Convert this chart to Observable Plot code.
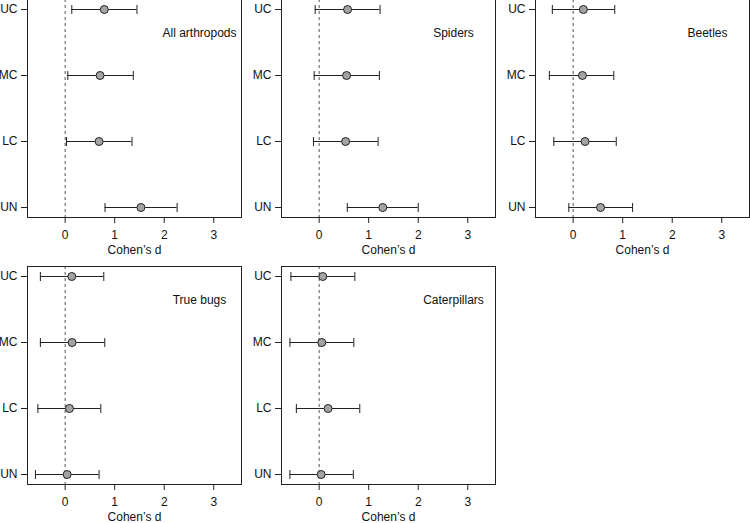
<!DOCTYPE html>
<html><head><meta charset="utf-8">
<script src="https://cdn.jsdelivr.net/npm/d3@7"></script>
<script src="https://cdn.jsdelivr.net/npm/@observablehq/plot@0.6"></script>
<style>
body{margin:0;background:#fff;}
#wrap{position:relative;width:750px;height:523px;overflow:hidden;background:#fff;}
.panel{position:absolute;}
</style></head><body><div id="wrap"></div>
<script>
// Categories (top to bottom)
const groups = ["UC", "MC", "LC", "UN"];
const taxa = ["All arthropods", "Spiders", "Beetles", "True bugs", "Caterpillars"];
const xTicks = [0, 1, 2, 3];
const xLabel = "Cohen’s d";

// Cohen's d estimates per taxon, in group order UC, MC, LC, UN
const cohenD = [
  [0.79, 0.705, 0.685, 1.53],   // All arthropods
  [0.574, 0.554, 0.534, 1.284], // Spiders
  [0.207, 0.187, 0.24, 0.553],  // Beetles
  [0.134, 0.14, 0.087, 0.04],   // True bugs
  [0.074, 0.054, 0.18, 0.04]    // Caterpillars
];
// Lower confidence limits
const ciLow = [
  [0.134, 0.054, 0.027, 0.805],
  [-0.08, -0.10, -0.115, 0.568],
  [-0.42, -0.48, -0.39, -0.087],
  [-0.50, -0.50, -0.55, -0.60],
  [-0.57, -0.59, -0.46, -0.59]
];
// Upper confidence limits
const ciHigh = [
  [1.45, 1.376, 1.35, 2.26],
  [1.23, 1.216, 1.19, 2.0],
  [0.84, 0.82, 0.87, 1.2],
  [0.78, 0.80, 0.72, 0.685],
  [0.72, 0.70, 0.82, 0.69]
];

// Panel placement (layout only)
const layout = [
  {left: 0,   top: -1,  w: 250, h: 261, ml: 27, mr: 9, mt: 0, mb: 43},
  {left: 250, top: -1,  w: 250, h: 261, ml: 31, mr: 5, mt: 0, mb: 43},
  {left: 500, top: -1,  w: 250, h: 261, ml: 35, mr: 1, mt: 0, mb: 43},
  {left: 0,   top: 260, w: 250, h: 263, ml: 27, mr: 9, mt: 6, mb: 39},
  {left: 250, top: 260, w: 250, h: 263, ml: 31, mr: 5, mt: 6, mb: 39}
];

// vertical cap symbol for error bars
const capSymbol = {
  draw(context, size) {
    const r = Math.sqrt(size / Math.PI);
    context.moveTo(0, -r);
    context.lineTo(0, r);
  }
};

const wrap = document.getElementById("wrap");
const ink = "#222";

taxa.forEach((name, k) => {
  const data = groups.map((g, i) => ({g, d: cohenD[k][i], lo: ciLow[k][i], hi: ciHigh[k][i]}));
  const L = layout[k];
  const chart = Plot.plot({
    width: L.w, height: L.h,
    marginLeft: L.ml, marginRight: L.mr, marginTop: L.mt, marginBottom: L.mb,
    style: {fontFamily: "'Liberation Sans', Arial, Helvetica, sans-serif", fontSize: "12px", color: "#111", background: "white", overflow: "visible"},
    x: {domain: [-0.76, 3.56]},
    y: {type: "point", domain: groups, padding: 0.13},
    marks: [
      Plot.ruleX([0], {stroke: "#555", strokeDasharray: "3,3", strokeWidth: 1}),
      Plot.ruleY(data, {y: "g", x1: "lo", x2: "hi", stroke: ink, strokeWidth: 1}),
      Plot.dot(data, {x: "lo", y: "g", r: 4.5, symbol: capSymbol, fill: "none", stroke: ink, strokeWidth: 1}),
      Plot.dot(data, {x: "hi", y: "g", r: 4.5, symbol: capSymbol, fill: "none", stroke: ink, strokeWidth: 1}),
      Plot.dot(data, {x: "d", y: "g", r: 4, fill: "#a3a3a3", stroke: ink, strokeWidth: 1}),
      Plot.text([name], {text: d => d, frameAnchor: "top-right", dx: -42, dy: 29, textAnchor: "middle", fontSize: 12, fill: "#111"}),
      Plot.frame({stroke: ink, strokeWidth: 1}),
      Plot.axisY({tickSize: 6, tickPadding: 4, label: null, stroke: ink}),
      Plot.axisX({ticks: xTicks, tickSize: 6, tickPadding: 7, tickFormat: d => String(d),
                  label: xLabel, labelAnchor: "center", labelArrow: "none", labelOffset: 36, stroke: ink})
    ]
  });
  const div = document.createElement("div");
  div.className = "panel";
  div.style.left = L.left + "px";
  div.style.top = L.top + "px";
  div.appendChild(chart);
  wrap.appendChild(div);
});
</script>
</body></html>
